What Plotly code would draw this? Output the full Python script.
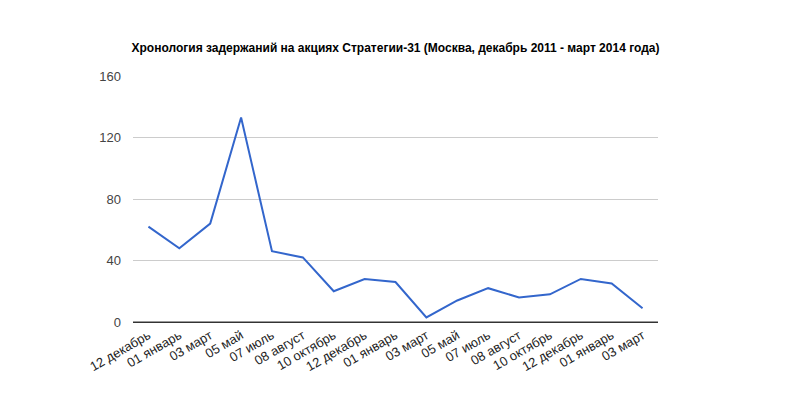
import plotly.graph_objects as go

labels = ["12 декабрь", "01 январь", "03 март", "05 май", "07 июль", "08 август",
          "10 октябрь", "12 декабрь", "01 январь", "03 март", "05 май", "07 июль",
          "08 август", "10 октябрь", "12 декабрь", "01 январь", "03 март"]
values = [62, 48, 64, 133, 46, 42, 20, 28, 26, 3, 14, 22, 16, 18, 28, 25, 9]
y_ticks = [0, 40, 80, 120, 160]

idx = list(range(len(labels)))

W, H = 775, 383

fig = go.Figure()
fig.add_trace(go.Scatter(x=idx, y=values, mode="lines",
                         line=dict(color="#3366cc", width=2), showlegend=False,
                         hoverinfo="skip"))

fig.update_layout(
    width=W, height=H,
    paper_bgcolor="white", plot_bgcolor="white",
    margin=dict(l=125, r=125, t=68, b=69),
    font=dict(family="Liberation Sans, Arial, sans-serif", color="#444444", size=13),
    title=dict(text="<b>Хронология задержаний на акциях Стратегии-31 (Москва, декабрь 2011 - март 2014 года)</b>",
               x=0.5, xanchor="center", y=1 - 40/H, yanchor="middle",
               font=dict(size=12, color="#000000", family="Liberation Sans, Arial, sans-serif")),
    xaxis=dict(range=[-0.5, len(labels) - 0.5], tickmode="array", tickvals=idx,
               ticktext=labels, tickangle=-30, showgrid=False, zeroline=False,
               showline=True, linecolor="#333333", linewidth=1, automargin=False,
               ticks="", tickfont=dict(size=13, color="#222222")),
    yaxis=dict(range=[0, 160], tickmode="array", tickvals=y_ticks, automargin=False,
               showgrid=True, gridcolor="#cccccc", gridwidth=1, zeroline=False,
               ticks="", ticklabelstandoff=11, tickfont=dict(size=13, color="#444444")),
)
fig.add_hline(y=0, line=dict(color="#333333", width=1))

fig.write_html("out.html")
